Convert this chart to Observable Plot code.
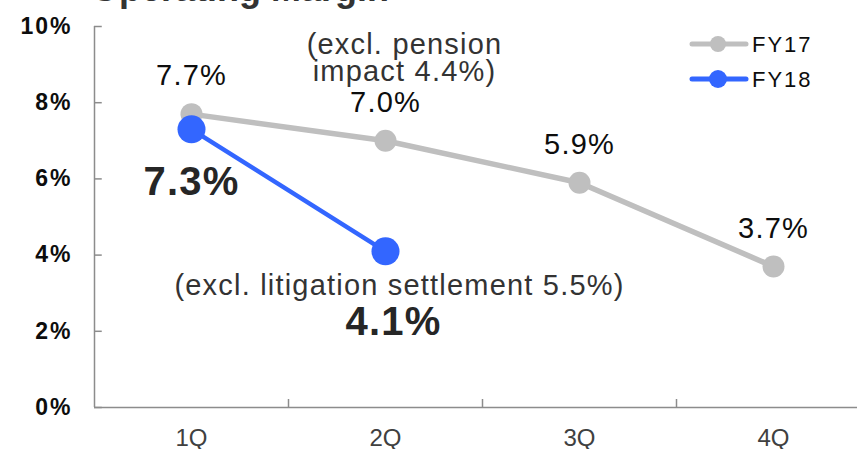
<!DOCTYPE html>
<html><head><meta charset="utf-8">
<script src="https://cdn.jsdelivr.net/npm/d3@7"></script>
<script src="https://cdn.jsdelivr.net/npm/@observablehq/plot@0.6"></script>
<style>
body{margin:0;background:#fff;}
#wrap{position:relative;width:857px;height:449px;overflow:hidden;font-family:"Liberation Sans",Arial,sans-serif;}
#title{position:absolute;left:91px;top:-29px;font:bold 36px/36px "Liberation Sans",Arial,sans-serif;color:#333;white-space:nowrap;}
#legend{position:absolute;left:0;top:0;pointer-events:none;}
g[aria-label="text"] text{letter-spacing:1.2px}
g[aria-label="y-axis tick label"] text{letter-spacing:2px}
</style>
</head><body>
<div id="wrap"><div id="title">Operating Margin</div></div>
<script>
const title = "Operating Margin";
const quarters = ["1Q", "2Q", "3Q", "4Q"];
const seriesNames = ["FY17", "FY18"];
const fy17 = [7.7, 7.0, 5.9, 3.7];
const fy18 = [7.3, 4.1];
const yTicks = [0, 2, 4, 6, 8, 10];
const quarterBounds = [0.5, 1.5, 2.5];
const pensionNote = "(excl. pension\nimpact 4.4%)";
const litigationNote = "(excl. litigation settlement 5.5%)";

const gray = "#bfbfbf", blue = "#3366ff";
const rows17 = fy17.map((v, i) => ({q: quarters[i], i, v}));
const rows18 = fy18.map((v, i) => ({q: quarters[i], i, v}));
const pct = d => d.v.toFixed(1) + "%";

const chart = Plot.plot({
  width: 857, height: 449,
  marginLeft: 94, marginRight: 0, marginTop: 26, marginBottom: 42,
  style: {fontFamily: '"Liberation Sans", Arial, sans-serif', background: "transparent", overflow: "visible"},
  x: {type: "linear", domain: [-0.5, 3.5], range: [94, 870]},
  y: {domain: [0, 10], range: [407, 26]},
  marks: [
    Plot.axisY({ticks: yTicks, tickSize: 0, tickPadding: 22, tickFormat: d => d + "%", fontSize: 23, fontWeight: "bold", fill: "#0d0d0d", label: null}),
    Plot.axisX({ticks: quarters.map((q, i) => i), tickSize: 0, tickPadding: 21, tickFormat: i => quarters[i], fontSize: 24, fill: "#404040", label: null}),
    Plot.ruleY([0], {stroke: "#8c8c8c", strokeWidth: 1.5}),
    Plot.ruleX([-0.5], {y1: 0, y2: 10, stroke: "#8c8c8c", strokeWidth: 1.5}),
    Plot.ruleY(yTicks, {y: d => d, x1: -0.5, x2: -0.46, stroke: "#8c8c8c", strokeWidth: 1.5}),
    Plot.ruleX(quarterBounds, {x: d => d, y1: 0, y2: 0.21, stroke: "#8c8c8c", strokeWidth: 1.5}),
    Plot.line(rows17, {x: "i", y: "v", stroke: gray, strokeWidth: 5.5}),
    Plot.dot(rows17, {x: "i", y: "v", r: 11, fill: gray}),
    Plot.line(rows18, {x: "i", y: "v", stroke: blue, strokeWidth: 4.5}),
    Plot.dot(rows18, {x: "i", y: "v", r: 14, fill: blue}),
    Plot.text(rows17, {x: "i", y: "v", text: pct, dy: -29, lineAnchor: "bottom", fontSize: 29, fill: "#0d0d0d"}),
    Plot.text([rows17[1]], {x: "i", y: "v", text: () => pensionNote, dx: 19, dy: -60, lineAnchor: "bottom", lineHeight: 0.93, fontSize: 29, fill: "#333"}),
    Plot.text([rows18[0]], {x: "i", y: "v", text: pct, dy: 66, lineAnchor: "bottom", fontSize: 40, fontWeight: "bold", fill: "#262626"}),
    Plot.text([rows18[1]], {x: "i", y: "v", text: () => litigationNote, dx: 14, dy: 44, lineAnchor: "bottom", fontSize: 29, fill: "#333"}),
    Plot.text([rows18[1]], {x: "i", y: "v", text: pct, dx: 8, dy: 84, lineAnchor: "bottom", fontSize: 40, fontWeight: "bold", fill: "#262626"})
  ]
});
const wrap = document.getElementById("wrap");
wrap.appendChild(chart);

// legend
const legend = d3.select(wrap).append("svg").attr("id", "legend").attr("width", 857).attr("height", 449);
const legendItems = [{name: seriesNames[0], color: gray, r: 8, y: 44}, {name: seriesNames[1], color: blue, r: 9, y: 79}];
const g = legend.selectAll("g").data(legendItems).join("g");
g.append("line").attr("x1", 692).attr("x2", 746).attr("y1", d => d.y).attr("y2", d => d.y)
  .attr("stroke", d => d.color).attr("stroke-width", 5).attr("stroke-linecap", "round");
g.append("circle").attr("cx", 718).attr("cy", d => d.y).attr("r", d => d.r).attr("fill", d => d.color);
g.append("text").attr("x", 752).attr("y", d => d.y + 7.5).text(d => d.name)
  .attr("font-family", '"Liberation Sans", Arial, sans-serif').attr("font-size", 22)
  .attr("letter-spacing", "2px").attr("fill", "#0d0d0d");
</script>
</body></html>
